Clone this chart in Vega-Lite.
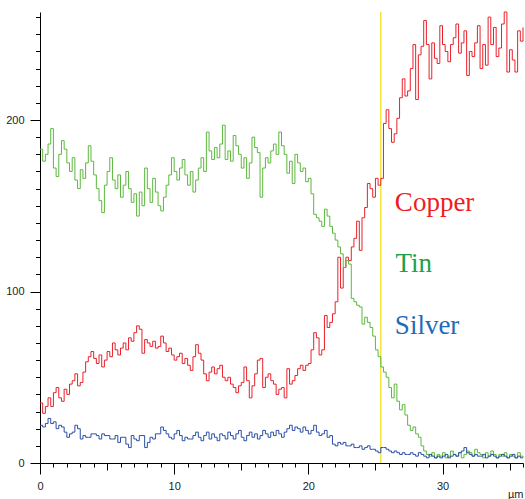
{
  "$schema": "https://vega.github.io/schema/vega-lite/v6.json",
  "width": 483,
  "height": 451,
  "autosize": {"type": "none"},
  "padding": {"left": 40, "top": 12, "right": 2, "bottom": 36},
  "background": "#ffffff",
  "config": {
    "view": {"stroke": null},
    "axis": {"grid": false, "domainColor": "#000000", "tickColor": "#000000", "labelColor": "#222222", "labelFont": "Liberation Sans", "labelFontSize": 11, "titleFont": "Liberation Sans", "titleFontWeight": "normal", "titleColor": "#222222", "titleFontSize": 11}
  },
  "datasets": {
    "profile": [
      {"x":0,"Copper":35,"Tin":183,"Silver":22},{"x":0.2,"Copper":29,"Tin":176,"Silver":21},{"x":0.4,"Copper":33,"Tin":180,"Silver":23},{"x":0.6,"Copper":38,"Tin":186,"Silver":26},{"x":0.8,"Copper":33,"Tin":195,"Silver":23},
      {"x":1,"Copper":41,"Tin":172,"Silver":24},{"x":1.2,"Copper":44,"Tin":167,"Silver":20},{"x":1.4,"Copper":38,"Tin":180,"Silver":22},{"x":1.6,"Copper":36,"Tin":188,"Silver":21},{"x":1.8,"Copper":43,"Tin":183,"Silver":18},
      {"x":2,"Copper":40,"Tin":175,"Silver":15},{"x":2.2,"Copper":46,"Tin":170,"Silver":17},{"x":2.4,"Copper":48,"Tin":178,"Silver":18},{"x":2.6,"Copper":52,"Tin":165,"Silver":22},{"x":2.8,"Copper":45,"Tin":160,"Silver":20},
      {"x":3,"Copper":47,"Tin":171,"Silver":14},{"x":3.2,"Copper":53,"Tin":166,"Silver":16},{"x":3.4,"Copper":59,"Tin":175,"Silver":15},{"x":3.6,"Copper":62,"Tin":185,"Silver":15},{"x":3.8,"Copper":65,"Tin":176,"Silver":17},
      {"x":4,"Copper":61,"Tin":168,"Silver":17},{"x":4.2,"Copper":58,"Tin":160,"Silver":16},{"x":4.4,"Copper":63,"Tin":153,"Silver":14},{"x":4.6,"Copper":56,"Tin":146,"Silver":17},{"x":4.8,"Copper":60,"Tin":162,"Silver":16},
      {"x":5,"Copper":65,"Tin":170,"Silver":16},{"x":5.2,"Copper":62,"Tin":178,"Silver":14},{"x":5.4,"Copper":70,"Tin":165,"Silver":14},{"x":5.6,"Copper":66,"Tin":160,"Silver":16},{"x":5.8,"Copper":63,"Tin":168,"Silver":12},
      {"x":6,"Copper":67,"Tin":155,"Silver":15},{"x":6.2,"Copper":70,"Tin":162,"Silver":15},{"x":6.4,"Copper":66,"Tin":170,"Silver":11},{"x":6.6,"Copper":73,"Tin":160,"Silver":9},{"x":6.8,"Copper":71,"Tin":152,"Silver":16},
      {"x":7,"Copper":76,"Tin":157,"Silver":14},{"x":7.2,"Copper":80,"Tin":144,"Silver":13},{"x":7.4,"Copper":78,"Tin":158,"Silver":16},{"x":7.6,"Copper":64,"Tin":150,"Silver":16},{"x":7.8,"Copper":72,"Tin":172,"Silver":9},
      {"x":8,"Copper":70,"Tin":160,"Silver":12},{"x":8.2,"Copper":68,"Tin":152,"Silver":15},{"x":8.4,"Copper":71,"Tin":166,"Silver":14},{"x":8.6,"Copper":67,"Tin":158,"Silver":17},{"x":8.8,"Copper":68,"Tin":150,"Silver":17},
      {"x":9,"Copper":74,"Tin":147,"Silver":21},{"x":9.2,"Copper":70,"Tin":155,"Silver":19},{"x":9.4,"Copper":65,"Tin":162,"Silver":17},{"x":9.6,"Copper":67,"Tin":168,"Silver":15},{"x":9.8,"Copper":63,"Tin":178,"Silver":14},
      {"x":10,"Copper":60,"Tin":170,"Silver":17},{"x":10.2,"Copper":62,"Tin":165,"Silver":19},{"x":10.4,"Copper":64,"Tin":172,"Silver":16},{"x":10.6,"Copper":58,"Tin":177,"Silver":13},{"x":10.8,"Copper":61,"Tin":168,"Silver":15},
      {"x":11,"Copper":57,"Tin":162,"Silver":14},{"x":11.2,"Copper":54,"Tin":170,"Silver":14},{"x":11.4,"Copper":62,"Tin":158,"Silver":16},{"x":11.6,"Copper":69,"Tin":165,"Silver":18},{"x":11.8,"Copper":64,"Tin":172,"Silver":15},
      {"x":12,"Copper":60,"Tin":178,"Silver":13},{"x":12.2,"Copper":52,"Tin":170,"Silver":16},{"x":12.4,"Copper":48,"Tin":193,"Silver":18},{"x":12.6,"Copper":53,"Tin":182,"Silver":14},{"x":12.8,"Copper":56,"Tin":177,"Silver":17},
      {"x":13,"Copper":52,"Tin":184,"Silver":15},{"x":13.2,"Copper":55,"Tin":178,"Silver":13},{"x":13.4,"Copper":57,"Tin":186,"Silver":17},{"x":13.6,"Copper":50,"Tin":197,"Silver":16},{"x":13.8,"Copper":48,"Tin":177,"Silver":14},
      {"x":14,"Copper":50,"Tin":182,"Silver":18},{"x":14.2,"Copper":46,"Tin":176,"Silver":16},{"x":14.4,"Copper":44,"Tin":191,"Silver":14},{"x":14.6,"Copper":41,"Tin":185,"Silver":17},{"x":14.8,"Copper":45,"Tin":180,"Silver":19},
      {"x":15,"Copper":47,"Tin":172,"Silver":15},{"x":15.2,"Copper":56,"Tin":178,"Silver":13},{"x":15.4,"Copper":48,"Tin":166,"Silver":16},{"x":15.6,"Copper":38,"Tin":175,"Silver":18},{"x":15.8,"Copper":45,"Tin":190,"Silver":15},
      {"x":16,"Copper":52,"Tin":184,"Silver":17},{"x":16.2,"Copper":60,"Tin":181,"Silver":14},{"x":16.4,"Copper":61,"Tin":155,"Silver":16},{"x":16.6,"Copper":44,"Tin":172,"Silver":19},{"x":16.8,"Copper":50,"Tin":178,"Silver":17},
      {"x":17,"Copper":52,"Tin":175,"Silver":15},{"x":17.2,"Copper":48,"Tin":182,"Silver":18},{"x":17.4,"Copper":46,"Tin":186,"Silver":16},{"x":17.6,"Copper":40,"Tin":180,"Silver":19},{"x":17.8,"Copper":43,"Tin":193,"Silver":17},
      {"x":18,"Copper":44,"Tin":185,"Silver":15},{"x":18.2,"Copper":38,"Tin":180,"Silver":18},{"x":18.4,"Copper":55,"Tin":169,"Silver":20},{"x":18.6,"Copper":46,"Tin":176,"Silver":22},{"x":18.8,"Copper":48,"Tin":163,"Silver":19},
      {"x":19,"Copper":51,"Tin":180,"Silver":21},{"x":19.2,"Copper":55,"Tin":175,"Silver":20},{"x":19.4,"Copper":57,"Tin":170,"Silver":18},{"x":19.6,"Copper":54,"Tin":172,"Silver":21},{"x":19.8,"Copper":57,"Tin":164,"Silver":19},
      {"x":20,"Copper":58,"Tin":166,"Silver":17},{"x":20.2,"Copper":66,"Tin":157,"Silver":19},{"x":20.4,"Copper":76,"Tin":145,"Silver":22},{"x":20.6,"Copper":73,"Tin":143,"Silver":18},{"x":20.8,"Copper":63,"Tin":141,"Silver":16},
      {"x":21,"Copper":66,"Tin":138,"Silver":17},{"x":21.2,"Copper":86,"Tin":148,"Silver":19},{"x":21.4,"Copper":79,"Tin":144,"Silver":15},{"x":21.6,"Copper":82,"Tin":138,"Silver":16},{"x":21.8,"Copper":87,"Tin":134,"Silver":11},
      {"x":22,"Copper":94,"Tin":130,"Silver":10},{"x":22.2,"Copper":120,"Tin":126,"Silver":12},{"x":22.4,"Copper":102,"Tin":122,"Silver":11},{"x":22.6,"Copper":114,"Tin":114,"Silver":12},{"x":22.8,"Copper":120,"Tin":118,"Silver":10},
      {"x":23,"Copper":118,"Tin":116,"Silver":10},{"x":23.2,"Copper":126,"Tin":96,"Silver":11},{"x":23.4,"Copper":131,"Tin":94,"Silver":9},{"x":23.6,"Copper":141,"Tin":92,"Silver":9},{"x":23.8,"Copper":124,"Tin":91,"Silver":10},
      {"x":24,"Copper":143,"Tin":81,"Silver":8},{"x":24.2,"Copper":149,"Tin":85,"Silver":9},{"x":24.4,"Copper":163,"Tin":82,"Silver":10},{"x":24.6,"Copper":160,"Tin":79,"Silver":8},{"x":24.8,"Copper":155,"Tin":74,"Silver":8},
      {"x":25,"Copper":166,"Tin":66,"Silver":7},{"x":25.2,"Copper":162,"Tin":62,"Silver":6},{"x":25.4,"Copper":166,"Tin":56,"Silver":9},{"x":25.6,"Copper":198,"Tin":53,"Silver":9},{"x":25.8,"Copper":206,"Tin":50,"Silver":8},
      {"x":26,"Copper":195,"Tin":44,"Silver":7},{"x":26.2,"Copper":187,"Tin":38,"Silver":6},{"x":26.4,"Copper":192,"Tin":46,"Silver":7},{"x":26.6,"Copper":201,"Tin":36,"Silver":6},{"x":26.8,"Copper":213,"Tin":31,"Silver":5},
      {"x":27,"Copper":224,"Tin":34,"Silver":6},{"x":27.2,"Copper":214,"Tin":28,"Silver":5},{"x":27.4,"Copper":217,"Tin":22,"Silver":5},{"x":27.6,"Copper":230,"Tin":19,"Silver":6},{"x":27.8,"Copper":244,"Tin":21,"Silver":5},
      {"x":28,"Copper":212,"Tin":17,"Silver":4},{"x":28.2,"Copper":238,"Tin":15,"Silver":6},{"x":28.4,"Copper":243,"Tin":10,"Silver":5},{"x":28.6,"Copper":258,"Tin":7,"Silver":4},{"x":28.8,"Copper":244,"Tin":5,"Silver":3},
      {"x":29,"Copper":224,"Tin":4,"Silver":5},{"x":29.2,"Copper":245,"Tin":6,"Silver":4},{"x":29.4,"Copper":236,"Tin":3,"Silver":3},{"x":29.6,"Copper":233,"Tin":5,"Silver":4},{"x":29.8,"Copper":255,"Tin":4,"Silver":3},
      {"x":30,"Copper":244,"Tin":6,"Silver":4},{"x":30.2,"Copper":240,"Tin":3,"Silver":5},{"x":30.4,"Copper":234,"Tin":4,"Silver":3},{"x":30.6,"Copper":244,"Tin":7,"Silver":4},{"x":30.8,"Copper":248,"Tin":5,"Silver":5},
      {"x":31,"Copper":256,"Tin":4,"Silver":4},{"x":31.2,"Copper":239,"Tin":6,"Silver":6},{"x":31.4,"Copper":245,"Tin":3,"Silver":7},{"x":31.6,"Copper":252,"Tin":5,"Silver":9},{"x":31.8,"Copper":226,"Tin":7,"Silver":6},
      {"x":32,"Copper":240,"Tin":6,"Silver":5},{"x":32.2,"Copper":237,"Tin":4,"Silver":4},{"x":32.4,"Copper":245,"Tin":8,"Silver":5},{"x":32.6,"Copper":255,"Tin":6,"Silver":4},{"x":32.8,"Copper":230,"Tin":5,"Silver":4},
      {"x":33,"Copper":244,"Tin":3,"Silver":5},{"x":33.2,"Copper":232,"Tin":6,"Silver":3},{"x":33.4,"Copper":260,"Tin":4,"Silver":4},{"x":33.6,"Copper":244,"Tin":7,"Silver":5},{"x":33.8,"Copper":254,"Tin":5,"Silver":4},
      {"x":34,"Copper":237,"Tin":3,"Silver":3},{"x":34.2,"Copper":242,"Tin":5,"Silver":4},{"x":34.4,"Copper":256,"Tin":4,"Silver":5},{"x":34.6,"Copper":263,"Tin":6,"Silver":4},{"x":34.8,"Copper":228,"Tin":3,"Silver":3},
      {"x":35,"Copper":241,"Tin":5,"Silver":4},{"x":35.2,"Copper":235,"Tin":4,"Silver":5},{"x":35.4,"Copper":228,"Tin":3,"Silver":3},{"x":35.6,"Copper":252,"Tin":6,"Silver":4},{"x":35.8,"Copper":246,"Tin":4,"Silver":3},
      {"x":36,"Copper":254,"Tin":3,"Silver":3}
    ],
    "marker": [{"x": 25.4}],
    "labels": [
      {"label": "Copper", "x": 26.45, "y": 147},
      {"label": "Tin", "x": 26.5, "y": 111.4},
      {"label": "Silver", "x": 26.45, "y": 75.5}
    ]
  },
  "layer": [
    {
      "data": {"name": "marker"},
      "mark": {"type": "rule", "color": "#f3e43a", "strokeWidth": 1.5},
      "encoding": {
        "x": {
          "field": "x", "type": "quantitative",
          "scale": {"domain": [0, 36], "nice": false, "zero": false},
          "axis": {
            "title": "µm",
            "format": "d",
            "tickCount": 200,
            "values": [0,1,2,3,4,5,6,7,8,9,10,11,12,13,14,15,16,17,18,19,20,21,22,23,24,25,26,27,28,29,30,31,32,33,34,35,36],
            "labelExpr": "datum.value % 10 === 0 ? datum.label : ''",
            "tickSize": {"condition": [{"test": "datum.value % 10 === 0", "value": 11}, {"test": "datum.value % 5 === 0", "value": 7}], "value": 4},
            "labelPadding": 6,
            "labelFlush": false,
            "labelOverlap": false,
            "titleAnchor": "end",
            "titleAlign": "right",
            "titleX": 483,
            "titleY": 34,
            "titleBaseline": "alphabetic"
          }
        }
      }
    },
    {
      "data": {"name": "profile"},
      "transform": [{"fold": ["Copper", "Tin", "Silver"], "as": ["element", "counts"]}],
      "mark": {"type": "line", "strokeWidth": 1, "interpolate": "step-after"},
      "encoding": {
        "x": {"field": "x", "type": "quantitative", "title": "µm"},
        "y": {
          "field": "counts", "type": "quantitative",
          "scale": {"domain": [0, 263], "nice": false},
          "axis": {
            "title": null,
            "format": "d",
            "tickCount": 200,
            "values": [0,10,20,30,40,50,60,70,80,90,100,110,120,130,140,150,160,170,180,190,200,210,220,230,240,250,260],
            "labelExpr": "datum.value % 100 === 0 ? datum.label : ''",
            "tickSize": {"condition": {"test": "datum.value % 100 === 0", "value": 10}, "value": 4.5},
            "labelPadding": 6,
            "labelOverlap": false,
            "labelFlush": false
          }
        },
        "color": {
          "field": "element", "type": "nominal",
          "scale": {"domain": ["Copper", "Tin", "Silver"], "range": ["#e8202a", "#5cb83c", "#2b4ea5"]},
          "legend": null
        }
      }
    },
    {
      "data": {"name": "labels"},
      "mark": {"type": "text", "font": "Liberation Serif", "fontSize": 27, "align": "left", "baseline": "alphabetic"},
      "encoding": {
        "x": {"field": "x", "type": "quantitative", "title": "µm"},
        "y": {"field": "y", "type": "quantitative"},
        "text": {"field": "label"},
        "color": {
          "field": "label", "type": "nominal",
          "scale": {"domain": ["Copper", "Tin", "Silver"], "range": ["#ee1c24", "#1aa34a", "#1e6bb8"]},
          "legend": null
        }
      }
    }
  ],
  "resolve": {"scale": {"color": "independent"}}
}
